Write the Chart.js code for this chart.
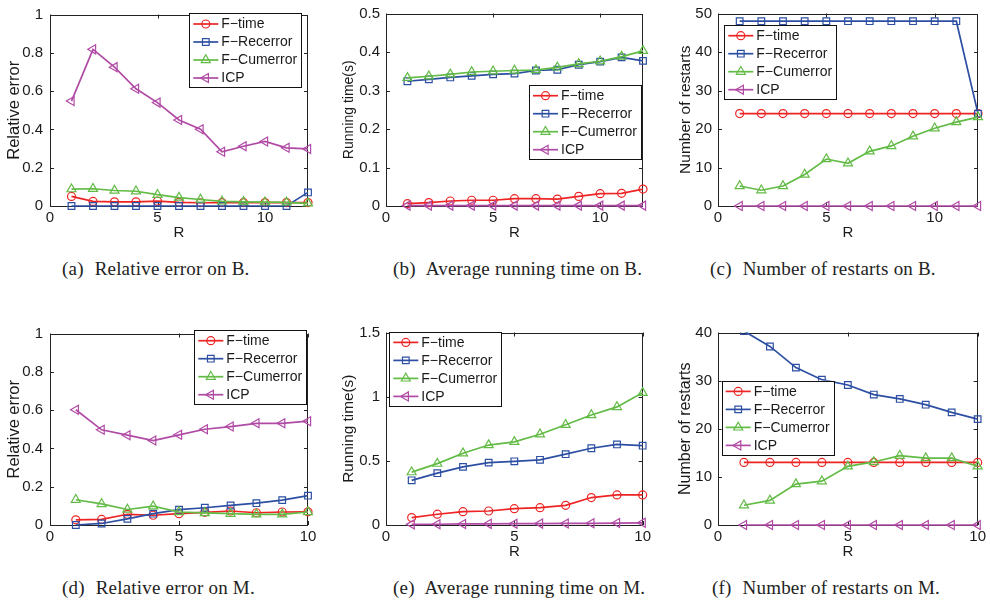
<!DOCTYPE html>
<html>
<head>
<meta charset="utf-8">
<script src="https://cdn.jsdelivr.net/npm/chart.js@4.4.1/dist/chart.umd.min.js"></script>
<style>
  body { margin: 0; background: #fff; }
  #page { position: relative; width: 990px; height: 603px; overflow: hidden; background: #fff; }
  canvas.panel { position: absolute; }
  .cap { position: absolute; font-family: "Liberation Serif", "DejaVu Serif", serif; font-size: 19px; letter-spacing: 0.2px; line-height: 20px; color: #222; white-space: nowrap; }
  .cap span { margin-right: 6px; }
</style>
</head>
<body>
<div id="page">
  <canvas id="chartA" class="panel" width="322" height="245" style="left:0px;top:0px"></canvas>
  <canvas id="chartB" class="panel" width="325" height="245" style="left:330px;top:0px"></canvas>
  <canvas id="chartC" class="panel" width="330" height="245" style="left:660px;top:0px"></canvas>
  <canvas id="chartD" class="panel" width="322" height="245" style="left:0px;top:319px"></canvas>
  <canvas id="chartE" class="panel" width="325" height="245" style="left:330px;top:319px"></canvas>
  <canvas id="chartF" class="panel" width="330" height="245" style="left:660px;top:319px"></canvas>

  <div class="cap" style="left:62px;top:259px"><span>(a)</span> Relative error on B.</div>
  <div class="cap" style="left:393px;top:259px"><span>(b)</span> Average running time on B.</div>
  <div class="cap" style="left:710px;top:259px"><span>(c)</span> Number of restarts on B.</div>
  <div class="cap" style="left:62px;top:578px"><span>(d)</span> Relative error on M.</div>
  <div class="cap" style="left:393px;top:578px"><span>(e)</span> Average running time on M.</div>
  <div class="cap" style="left:712px;top:578px"><span>(f)</span> Number of restarts on M.</div>
</div>
<script>
// значения R
const rB = [1, 2, 3, 4, 5, 6, 7, 8, 9, 10, 11, 12];
const rM = [1, 2, 3, 4, 5, 6, 7, 8, 9, 10];
const xTicks = [0, 5, 10];
const seriesNames = ['F\u2212time', 'F\u2212Recerror', 'F\u2212Cumerror', 'ICP'];

// (a) Relative error on B
const relErrBTime = [0.05, 0.024, 0.022, 0.022, 0.025, 0.019, 0.017, 0.018, 0.018, 0.018, 0.018, 0.018];
const relErrBRec  = [0, 0, 0, 0, 0, 0, 0, 0, 0, 0, 0, 0.071];
const relErrBCum  = [0.088, 0.090, 0.081, 0.077, 0.059, 0.044, 0.034, 0.024, 0.022, 0.020, 0.019, 0.014];
const relErrBIcp  = [0.548, 0.818, 0.725, 0.612, 0.540, 0.449, 0.401, 0.283, 0.312, 0.337, 0.304, 0.298];
const yTicksRel   = [0, 0.2, 0.4, 0.6, 0.8, 1];

// (b) Average running time on B
const timeBTime = [0.006, 0.009, 0.013, 0.015, 0.015, 0.019, 0.019, 0.018, 0.025, 0.032, 0.033, 0.044];
const timeBRec  = [0.324, 0.329, 0.334, 0.338, 0.342, 0.344, 0.352, 0.354, 0.367, 0.375, 0.386, 0.377];
const timeBCum  = [0.333, 0.337, 0.342, 0.348, 0.350, 0.352, 0.353, 0.360, 0.369, 0.376, 0.388, 0.403];
const timeBIcp  = [0.001, 0.001, 0.001, 0.001, 0.001, 0.001, 0.001, 0.001, 0.001, 0.001, 0.001, 0.001];
const yTicksTimeB = [0, 0.1, 0.2, 0.3, 0.4, 0.5];

// (c) Number of restarts on B
const restBTime = [24, 24, 24, 24, 24, 24, 24, 24, 24, 24, 24, 24];
const restBRec  = [48, 48, 48, 48, 48, 48, 48, 48, 48, 48, 48, 24];
const restBCum  = [5.2, 4.1, 5.2, 8.2, 12.2, 11.1, 14.2, 15.6, 18.1, 20.2, 21.8, 23.1];
const restBIcp  = [0, 0, 0, 0, 0, 0, 0, 0, 0, 0, 0, 0];
const yTicksRestB = [0, 10, 20, 30, 40, 50];

// (d) Relative error on M
const relErrMTime = [0.027, 0.029, 0.056, 0.051, 0.059, 0.066, 0.073, 0.064, 0.068, 0.069];
const relErrMRec  = [0, 0.008, 0.032, 0.059, 0.080, 0.090, 0.102, 0.114, 0.130, 0.153];
const relErrMCum  = [0.132, 0.110, 0.081, 0.098, 0.068, 0.063, 0.059, 0.056, 0.056, 0.068];
const relErrMIcp  = [0.602, 0.497, 0.469, 0.441, 0.471, 0.500, 0.514, 0.531, 0.531, 0.542];

// (e) Average running time on M
const timeMTime = [0.058, 0.084, 0.104, 0.109, 0.127, 0.135, 0.153, 0.214, 0.234, 0.234];
const timeMRec  = [0.348, 0.404, 0.453, 0.486, 0.496, 0.508, 0.552, 0.598, 0.628, 0.618];
const timeMCum  = [0.412, 0.478, 0.559, 0.623, 0.648, 0.707, 0.781, 0.857, 0.920, 1.030];
const timeMIcp  = [0.005, 0.006, 0.008, 0.009, 0.010, 0.011, 0.012, 0.013, 0.015, 0.017];
const yTicksTimeM = [0, 0.5, 1, 1.5];

// (f) Number of restarts on M
const restMTime = [13, 13, 13, 13, 13, 13, 13, 13, 13, 13];
const restMRec  = [40.3, 37.1, 32.7, 30.2, 29.1, 27.1, 26.2, 25.0, 23.4, 22.0];
const restMCum  = [4.1, 5.1, 8.5, 9.1, 12.2, 13.1, 14.4, 13.9, 13.9, 12.2];
const restMIcp  = [0, 0, 0, 0, 0, 0, 0, 0, 0, 0];
const yTicksRestM = [0, 10, 20, 30, 40];

const FONT = '"Liberation Sans", Arial, sans-serif';
const TEXT = '#1a1a1a';
const styles = [
    { color: '#ee2424', pointStyle: 'circle', radius: 4, rotation: 0 },
    { color: '#2d4fa3', pointStyle: 'rect', radius: 4.7, rotation: 0 },
    { color: '#62bb45', pointStyle: 'triangle', radius: 5.2, rotation: 0 },
    { color: '#b04aa5', pointStyle: 'triangle', radius: 5.2, rotation: -90 }
];

// рамка и внутренние засечки как в MATLAB
const boxPlugin = {
    id: 'matlabBox',
    beforeDatasetsDraw(chart) {
        const { ctx, chartArea: a, scales: { x, y } } = chart;
        ctx.save();
        ctx.strokeStyle = '#222';
        ctx.lineWidth = 1;
        ctx.strokeRect(Math.round(a.left) + 0.5, Math.round(a.top) + 0.5,
            Math.round(a.right - a.left) - 1, Math.round(a.bottom - a.top) - 1);
        ctx.beginPath();
        x.ticks.forEach(t => {
            const px = Math.round(x.getPixelForValue(t.value)) + 0.5;
            ctx.moveTo(px, a.bottom); ctx.lineTo(px, a.bottom - 4);
            ctx.moveTo(px, a.top); ctx.lineTo(px, a.top + 4);
        });
        y.ticks.forEach(t => {
            const py = Math.round(y.getPixelForValue(t.value)) + 0.5;
            ctx.moveTo(a.left, py); ctx.lineTo(a.left + 4, py);
            ctx.moveTo(a.right, py); ctx.lineTo(a.right - 4, py);
        });
        ctx.stroke();
        ctx.restore();
    }
};

// легенда в рамке
const legendPlugin = {
    id: 'matlabLegend',
    afterDraw(chart, args, opts) {
        const { ctx } = chart;
        const left = opts.left, top = opts.top, w = 112, h = 74;
        ctx.save();
        ctx.fillStyle = '#fff';
        ctx.fillRect(left, top, w, h);
        ctx.strokeStyle = '#111';
        ctx.lineWidth = 1;
        ctx.strokeRect(Math.round(left) + 0.5, Math.round(top) + 0.5, w, h);
        chart.data.datasets.forEach((ds, i) => {
            const yy = top + 10.7 + i * 18;
            ctx.strokeStyle = ds.borderColor;
            ctx.lineWidth = ds.borderWidth;
            ctx.beginPath();
            ctx.moveTo(left + 4, yy);
            ctx.lineTo(left + 29, yy);
            ctx.stroke();
            ctx.fillStyle = 'rgba(0,0,0,0)';
            ctx.lineWidth = ds.pointBorderWidth;
            Chart.helpers.drawPoint(ctx, {
                pointStyle: ds.pointStyle,
                rotation: ds.pointRotation,
                radius: ds.pointRadius,
                borderWidth: ds.pointBorderWidth
            }, left + 16.5, yy);
            ctx.fillStyle = TEXT;
            ctx.font = '14px ' + FONT;
            ctx.textBaseline = 'middle';
            ctx.textAlign = 'left';
            ctx.fillText(ds.label, left + 32, yy + 0.5);
        });
        ctx.restore();
    }
};

function makeChart(id, p) {
    const datasets = p.series.map((vals, i) => ({
        label: seriesNames[i],
        data: p.r.map((r, k) => ({ x: r, y: vals[k] })),
        borderColor: styles[i].color,
        backgroundColor: 'rgba(0,0,0,0)',
        borderWidth: 1.7,
        pointStyle: styles[i].pointStyle,
        pointRadius: styles[i].radius,
        pointRotation: styles[i].rotation,
        pointBorderWidth: 1.2,
        pointBorderColor: styles[i].color,
        pointBackgroundColor: 'rgba(0,0,0,0)',
        order: 4 - i,
        clip: p.clip !== undefined ? p.clip : false,
        tension: 0
    }));

    return new Chart(document.getElementById(id), {
        type: 'line',
        data: { datasets },
        options: {
            responsive: false,
            animation: false,
            devicePixelRatio: 1,
            events: [],
            layout: { padding: { left: 0, top: p.padTop, right: p.padRight, bottom: 0 } },
            plugins: {
                legend: { display: false },
                tooltip: { enabled: false },
                matlabLegend: p.legend
            },
            scales: {
                x: {
                    type: 'linear',
                    min: 0,
                    max: p.xMax,
                    grid: { display: false, drawTicks: false },
                    border: { display: false },
                    afterBuildTicks: s => { s.ticks = xTicks.map(v => ({ value: v })); },
                    afterFit: s => { s.height = 39; },
                    ticks: {
                        padding: 4, color: TEXT, maxRotation: 0, autoSkip: false,
                        font: { family: FONT, size: 15, lineHeight: 1 },
                        callback: v => String(v)
                    },
                    title: {
                        display: true, text: 'R', color: TEXT,
                        font: { family: FONT, size: 15 },
                        padding: { top: 0, bottom: 3 }
                    }
                },
                y: {
                    type: 'linear',
                    min: 0,
                    max: p.yMax,
                    grid: { display: false, drawTicks: false },
                    border: { display: false },
                    afterBuildTicks: s => { s.ticks = p.yTicks.map(v => ({ value: v })); },
                    afterFit: s => { s.width = p.yWidth; },
                    ticks: {
                        padding: p.yPad, color: TEXT, autoSkip: false,
                        font: { family: FONT, size: 15, lineHeight: 1 },
                        callback: v => String(v)
                    },
                    title: {
                        display: true, text: p.yTitle, color: TEXT,
                        font: { family: FONT, size: p.titleSize },
                        padding: { top: p.titlePad, bottom: 0 }
                    }
                }
            }
        },
        plugins: [boxPlugin, legendPlugin]
    });
}

makeChart('chartA', {
    r: rB, xMax: 12, series: [relErrBTime, relErrBRec, relErrBCum, relErrBIcp],
    yMax: 1, yTicks: yTicksRel, yTitle: 'Relative error', titleSize: 16.5, titlePad: 5,
    yWidth: 50, yPad: 7, padTop: 8, padRight: 14, legend: { left: 189.3, top: 13.3 }
});
makeChart('chartB', {
    r: rB, xMax: 12, series: [timeBTime, timeBRec, timeBCum, timeBIcp],
    yMax: 0.5, yTicks: yTicksTimeB, yTitle: 'Running time(s)', titleSize: 14, titlePad: 10.6,
    yWidth: 56, yPad: 6, padTop: 8, padRight: 12, legend: { left: 199, top: 85 }
});
makeChart('chartC', {
    r: rB, xMax: 12, series: [restBTime, restBRec, restBCum, restBIcp],
    yMax: 50, yTicks: yTicksRestB, yTitle: 'Number of restarts', titleSize: 15.5, titlePad: 16.7,
    yWidth: 58, yPad: 6, padTop: 8, padRight: 12, legend: { left: 64.3, top: 25 }
});
makeChart('chartD', {
    r: rM, xMax: 10, series: [relErrMTime, relErrMRec, relErrMCum, relErrMIcp],
    yMax: 1, yTicks: yTicksRel, yTitle: 'Relative error', titleSize: 16.4, titlePad: 5,
    yWidth: 50, yPad: 7, padTop: 9, padRight: 14, legend: { left: 194.3, top: 11 }
});
makeChart('chartE', {
    r: rM, xMax: 10, series: [timeMTime, timeMRec, timeMCum, timeMIcp],
    yMax: 1.5, yTicks: yTicksTimeM, yTitle: 'Running time(s)', titleSize: 15.3, titlePad: 9.8,
    yWidth: 56, yPad: 6, padTop: 9, padRight: 12, legend: { left: 59.3, top: 12.7 }
});
makeChart('chartF', {
    r: rM, xMax: 10, series: [restMTime, restMRec, restMCum, restMIcp],
    yMax: 40, yTicks: yTicksRestM, yTitle: 'Number of restarts', titleSize: 16, titlePad: 16.4,
    yWidth: 58, yPad: 6, padTop: 9, padRight: 12, legend: { left: 61.7, top: 61.7 },
    clip: { left: 20, top: 0, right: 20, bottom: 20 }
});
</script>
</body>
</html>
